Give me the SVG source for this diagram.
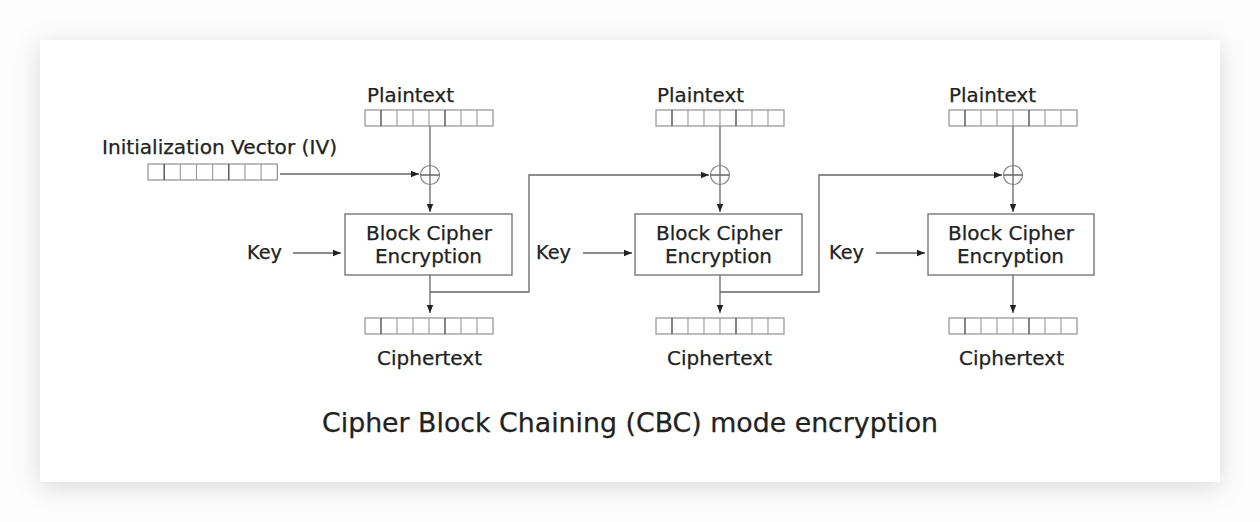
<svg xmlns="http://www.w3.org/2000/svg" width="1260" height="522" viewBox="0 0 1260 522">
<style>
text{font-family:"DejaVu Sans","Liberation Sans",sans-serif;fill:#222;stroke:#222;stroke-width:0.25}
.lbl{font-size:19px}
.cap{font-size:26px}
.ln{fill:none;stroke:#666;stroke-width:1.3}
.box{fill:#fff;stroke:#777;stroke-width:1.4}
.reg{fill:#fff;stroke:#888;stroke-width:1.1}
.dv{stroke:#999;stroke-width:1.1}
.dk{stroke:#444;stroke-width:1.3}
.xor{fill:#fff;stroke:#888;stroke-width:1.2}
</style>
<defs>
<marker id="ah" viewBox="0 0 10 10" refX="10" refY="5" markerWidth="8" markerHeight="8" markerUnits="userSpaceOnUse" orient="auto">
<path d="M0,1 L10,5 L0,9 Z" fill="#222"/>
</marker>
<filter id="sh" x="-10%" y="-20%" width="120%" height="140%">
<feDropShadow dx="0" dy="5" stdDeviation="13" flood-color="#000" flood-opacity="0.14"/>
</filter>
<g id="regdef">
<rect class="reg" x="0" y="0" width="128" height="16"/>
<path class="dv" d="M32,0V16M48,0V16M64,0V16M96,0V16M112,0V16"/>
<path class="dk" d="M16,0V16M80,0V16"/>
</g>
<g id="xordef">
<circle class="xor" cx="0" cy="0" r="9.5"/>
<path class="ln" d="M-9.5,0H9.5M0,-9.5V9.5"/>
</g>
</defs>
<rect x="0" y="0" width="1260" height="522" fill="#fdfdfd"/>
<rect x="40" y="40" width="1180" height="442" fill="#fff" filter="url(#sh)"/>

<g id="connectors">
<path class="ln" d="M430,126V165.5"/>
<path class="ln" d="M430,184.5V212" marker-end="url(#ah)"/>
<path class="ln" d="M430,275V313" marker-end="url(#ah)"/>
<path class="ln" d="M280,174H419" marker-end="url(#ah)"/>
<path class="ln" d="M293,253H341" marker-end="url(#ah)"/>
<path class="ln" d="M430,292H529V175H709" marker-end="url(#ah)"/>

<path class="ln" d="M720,126V165.5"/>
<path class="ln" d="M720,184.5V212" marker-end="url(#ah)"/>
<path class="ln" d="M720,275V313" marker-end="url(#ah)"/>
<path class="ln" d="M583,253H632" marker-end="url(#ah)"/>
<path class="ln" d="M720,292H819V175H1002" marker-end="url(#ah)"/>

<path class="ln" d="M1013,126V165.5"/>
<path class="ln" d="M1013,184.5V212" marker-end="url(#ah)"/>
<path class="ln" d="M1013,275V313" marker-end="url(#ah)"/>
<path class="ln" d="M876,253H925" marker-end="url(#ah)"/>
</g>

<g id="iv">
<text class="lbl" x="102" y="154" textLength="235" lengthAdjust="spacingAndGlyphs">Initialization Vector (IV)</text>
<use href="#regdef" transform="translate(148 164) scale(1.01 1)"/>
</g>

<g id="stage1">
<text class="lbl" x="367" y="102" textLength="87" lengthAdjust="spacingAndGlyphs">Plaintext</text>
<use href="#regdef" x="365" y="110"/>
<use href="#xordef" x="430" y="175"/>
<text class="lbl" x="247" y="259" textLength="35" lengthAdjust="spacingAndGlyphs">Key</text>
<rect class="box" x="345" y="214" width="167" height="61"/>
<text class="lbl" x="366" y="240" textLength="126" lengthAdjust="spacingAndGlyphs">Block Cipher</text>
<text class="lbl" x="375" y="263" textLength="107" lengthAdjust="spacingAndGlyphs">Encryption</text>
<use href="#regdef" x="365" y="318"/>
<text class="lbl" x="377" y="365" textLength="105" lengthAdjust="spacingAndGlyphs">Ciphertext</text>
</g>

<g id="stage2">
<text class="lbl" x="657" y="102" textLength="87" lengthAdjust="spacingAndGlyphs">Plaintext</text>
<use href="#regdef" x="656" y="110"/>
<use href="#xordef" x="720" y="175"/>
<text class="lbl" x="536" y="259" textLength="35" lengthAdjust="spacingAndGlyphs">Key</text>
<rect class="box" x="635" y="214" width="167" height="61"/>
<text class="lbl" x="656" y="240" textLength="126" lengthAdjust="spacingAndGlyphs">Block Cipher</text>
<text class="lbl" x="665" y="263" textLength="107" lengthAdjust="spacingAndGlyphs">Encryption</text>
<use href="#regdef" x="656" y="318"/>
<text class="lbl" x="667" y="365" textLength="105" lengthAdjust="spacingAndGlyphs">Ciphertext</text>
</g>

<g id="stage3">
<text class="lbl" x="949" y="102" textLength="87" lengthAdjust="spacingAndGlyphs">Plaintext</text>
<use href="#regdef" x="949" y="110"/>
<use href="#xordef" x="1013" y="175"/>
<text class="lbl" x="829" y="259" textLength="35" lengthAdjust="spacingAndGlyphs">Key</text>
<rect class="box" x="928" y="214" width="166" height="61"/>
<text class="lbl" x="948" y="240" textLength="126" lengthAdjust="spacingAndGlyphs">Block Cipher</text>
<text class="lbl" x="957" y="263" textLength="107" lengthAdjust="spacingAndGlyphs">Encryption</text>
<use href="#regdef" x="949" y="318"/>
<text class="lbl" x="959" y="365" textLength="105" lengthAdjust="spacingAndGlyphs">Ciphertext</text>
</g>

<g id="caption">
<text class="cap" x="322" y="432" textLength="616" lengthAdjust="spacingAndGlyphs">Cipher Block Chaining (CBC) mode encryption</text>
</g>
</svg>
